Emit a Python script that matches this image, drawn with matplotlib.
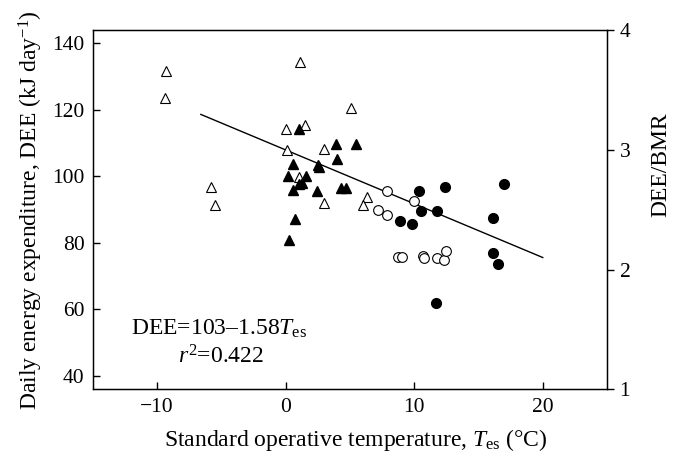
import matplotlib
matplotlib.use("Agg")
import matplotlib.pyplot as plt

plt.rcParams['font.family'] = ['Liberation Serif', 'DejaVu Serif']
plt.rcParams['mathtext.fontset'] = 'custom'
plt.rcParams['mathtext.rm'] = 'Liberation Serif'
plt.rcParams['mathtext.it'] = 'Liberation Serif:italic'

# open triangles
open_tri_x = [-9.3, -9.4, 1.1, -5.8, -5.5, 5.1, 0.0, 1.5, 0.1, 3.0, 1.0, 3.0, 6.35, 6.05]
open_tri_y = [131.5, 123.6, 134.5, 96.8, 91.4, 120.5, 114.3, 115.4, 107.8, 108.3, 99.8, 92.1, 93.8, 91.4]

# filled triangles
fill_tri_x = [1.0, 3.9, 5.45, 4.0, 0.55, 2.5, 2.6, 0.2, 1.6, 1.25, 1.0, 0.55, 2.4, 4.3, 4.7, 0.75, 0.25]
fill_tri_y = [114.3, 109.6, 109.6, 105.3, 103.8, 103.5, 102.9, 100.1, 100.0, 98.0, 97.6, 95.8, 95.6, 96.6, 96.6, 87.1, 81.0]

# open circles
open_circ_x = [7.9, 10.0, 7.2, 7.9, 8.75, 9.05, 10.7, 10.75, 11.8, 12.35, 12.5]
open_circ_y = [95.6, 92.7, 89.8, 88.5, 75.8, 75.8, 76.2, 75.6, 75.6, 74.8, 77.5]

# filled circles
fill_circ_x = [10.4, 12.4, 17.0, 10.5, 11.8, 8.9, 9.8, 16.1, 16.1, 16.5, 11.7]
fill_circ_y = [95.5, 96.7, 97.7, 89.7, 89.7, 86.5, 85.8, 87.4, 77.1, 73.8, 61.9]

# regression line as drawn
line_x = [-6.6, 20.0]
line_y = [118.6, 75.6]

bmr = 36.0

fig = plt.figure(figsize=(6.73, 4.53), dpi=100)
ax = fig.add_axes([0.138, 0.1406, 0.764, 0.7934])

ax.plot(line_x, line_y, color='black', lw=1.0)
ax.plot(open_tri_x, open_tri_y, '^', mfc='white', mec='black', mew=0.8, ms=7.5, ls='none')
ax.plot(fill_tri_x, fill_tri_y, '^', mfc='black', mec='black', ms=7.5, ls='none')
ax.plot(open_circ_x, open_circ_y, 'o', mfc='white', mec='black', mew=0.8, ms=7, ls='none')
ax.plot(fill_circ_x, fill_circ_y, 'o', mfc='black', mec='black', ms=7, ls='none')

ax.set_xlim(-15, 25)
ax.set_ylim(36, 144)
ax.set_xticks([-10, 0, 10, 20])
ax.set_yticks([40, 60, 80, 100, 120, 140])
ax.tick_params(direction='in', labelsize=15.5, length=5, width=1, pad=6)
for s in ax.spines.values():
    s.set_linewidth(1)

ax.set_xlabel(r'Standard operative temperature, $T_{\mathrm{es}}$ (°C)', fontsize=17)
ax.xaxis.set_label_coords(0.511, -0.105)
ax.set_ylabel(r'Daily energy expenditure, DEE (kJ day$^{-1}$)', fontsize=17, labelpad=5)

ax2 = ax.twinx()
ax2.set_ylim(ax.get_ylim()[0] / bmr, ax.get_ylim()[1] / bmr)
ax2.set_yticks([1, 2, 3, 4])
ax2.tick_params(direction='out', labelsize=15.5, length=5, width=1, pad=4)
ax2.set_ylabel('DEE/BMR', fontsize=17, labelpad=10)
ax2.yaxis.set_label_coords(1.085, 0.625)

ax.text(-12.05, 54.1, r'DEE=103–1.58$T_{\mathrm{es}}$', fontsize=17, ha='left', va='center')
ax.text(-8.35, 45.8, r'$r^2$=0.422', fontsize=17, ha='left', va='center')

fig.savefig('out.png', dpi=100)
